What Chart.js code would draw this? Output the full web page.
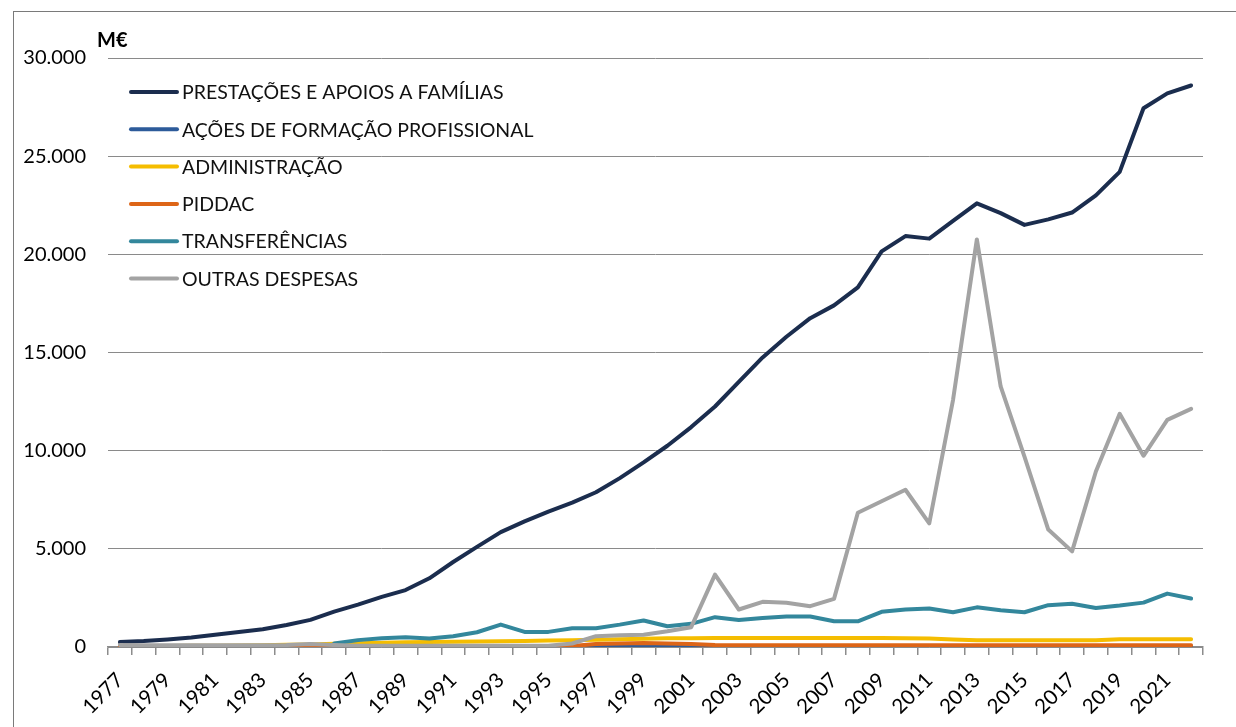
<!DOCTYPE html>
<html>
<head>
<meta charset="utf-8">
<script src="https://cdn.jsdelivr.net/npm/chart.js@4.4.1/dist/chart.umd.min.js"></script>
<style>
  html, body { margin: 0; padding: 0; background: #fff; }
  #wrap { position: relative; width: 1236px; height: 727px; overflow: hidden; }
  #frame { position: absolute; left: 13px; top: 11px; width: 1300px; height: 800px;
           border-top: 1.5px solid #7a7a7a; border-left: 1.5px solid #7a7a7a; pointer-events: none; }
  canvas { position: absolute; left: 0; top: 0; }
</style>
</head>
<body>
<div id="wrap">
  <div id="frame"></div>
  <canvas id="c" width="1236" height="727"></canvas>
</div>
<script>
const years = [1977,1978,1979,1980,1981,1982,1983,1984,1985,1986,1987,1988,1989,1990,1991,1992,1993,1994,1995,1996,1997,1998,1999,2000,2001,2002,2003,2004,2005,2006,2007,2008,2009,2010,2011,2012,2013,2014,2015,2016,2017,2018,2019,2020,2021,2022];

const seriesNames = ["PRESTAÇÕES E APOIOS A FAMÍLIAS","AÇÕES DE FORMAÇÃO PROFISSIONAL","ADMINISTRAÇÃO","PIDDAC","TRANSFERÊNCIAS","OUTRAS DESPESAS"];

const prestacoes = [250,300,380,480,620,760,900,1120,1380,1800,2160,2550,2900,3500,4330,5100,5850,6400,6900,7350,7880,8600,9400,10250,11200,12250,13500,14750,15800,16750,17400,18320,20150,20930,20800,21700,22600,22100,21500,21780,22130,23000,24200,27440,28200,28600];

const acoesFormacao = [10,10,10,10,10,10,10,10,10,10,10,10,10,10,10,10,10,10,10,10,20,20,20,20,20,10,10,10,10,10,10,10,10,10,10,10,10,10,10,10,10,10,10,10,10,10];

const administracao = [30,40,50,60,70,80,90,110,130,160,190,220,240,260,270,280,290,310,330,350,370,400,420,440,450,460,460,460,460,460,460,460,460,450,430,380,350,340,340,340,340,340,400,400,400,400];

const piddac = [20,20,20,20,20,20,20,20,20,20,20,20,50,50,50,50,50,50,50,50,150,180,200,180,150,100,90,90,90,90,90,90,90,90,90,90,90,90,90,90,90,90,90,90,90,90];

const transferencias = [null,null,null,null,null,null,null,null,null,180,350,450,500,430,550,750,1140,770,770,960,960,1140,1350,1060,1180,1520,1380,1480,1550,1550,1310,1310,1790,1910,1960,1770,2020,1870,1770,2130,2200,1990,2110,2260,2720,2470];

const outrasDespesas = [100,90,90,90,90,90,90,100,150,100,70,70,70,70,70,70,70,70,70,180,550,600,620,800,1010,3690,1910,2300,2250,2080,2450,6840,7420,8010,6300,12590,20760,13270,9700,5980,4870,8940,11880,9740,11570,12130];

const yTicks = [0,5000,10000,15000,20000,25000,30000];
const unitLabel = "M€";

const colors = ["#1b2d4e","#2d5b9a","#f5bd00","#dd6517","#33879c","#a3a3a3"];
const seriesData = [prestacoes, acoesFormacao, administracao, piddac, transferencias, outrasDespesas];

const FONT = "Lato, 'Liberation Sans', Arial, sans-serif";

const datasets = seriesNames.map((name, i) => ({
  label: name,
  data: seriesData[i],
  borderColor: colors[i],
  backgroundColor: colors[i],
  borderWidth: 4,
  pointRadius: 0,
  pointHoverRadius: 0,
  tension: 0,
  fill: false,
  spanGaps: false,
  borderCapStyle: 'round',
  borderJoinStyle: 'round',
  order: seriesNames.length - 1 - i
}));

const legendPlugin = {
  id: 'insideLegend',
  afterDraw(chart) {
    const ctx = chart.ctx;
    ctx.save();
    ctx.fillStyle = '#000';
    ctx.font = "bold 20px " + FONT;
    ctx.textAlign = 'left';
    ctx.textBaseline = 'middle';
    ctx.fillText(unitLabel, 97, 41);
    const x0 = 131, x1 = 177, tx = 182, y0 = 92, dy = 37.3;
    ctx.font = "19.5px " + FONT;
    seriesNames.forEach((name, i) => {
      const y = y0 + i * dy;
      ctx.strokeStyle = colors[i];
      ctx.lineWidth = 4;
      ctx.lineCap = 'round';
      ctx.beginPath();
      ctx.moveTo(x0, y);
      ctx.lineTo(x1, y);
      ctx.stroke();
      ctx.fillStyle = '#111';
      ctx.fillText(name, tx, y + 1);
    });
    ctx.restore();
  }
};

new Chart(document.getElementById('c'), {
  type: 'line',
  data: { labels: years.map(String), datasets },
  options: {
    responsive: false,
    animation: false,
    devicePixelRatio: 1,
    layout: { padding: { left: 0, top: 58, right: 33, bottom: 0 } },
    plugins: { legend: { display: false }, tooltip: { enabled: false } },
    scales: {
      x: {
        type: 'category',
        offset: true,
        grid: { display: true, drawOnChartArea: false, drawTicks: true, tickLength: 8, offset: true, color: '#8c8c8c', lineWidth: 1.5 },
        border: { display: true, color: '#8c8c8c', width: 1.5 },
        ticks: {
          autoSkip: false,
          maxRotation: 45,
          minRotation: 45,
          padding: 13,
          color: '#000',
          font: { family: FONT, size: 20.5 },
          callback: function(value, index) { return (years[index] - years[0]) % 2 === 0 ? String(years[index]) : ''; }
        },
        afterFit(scale) { scale.height = 80; }
      },
      y: {
        min: 0,
        max: 30000,
        afterBuildTicks(scale) { scale.ticks = yTicks.map(v => ({ value: v })); },
        grid: { color: '#8a8a8a', lineWidth: 1, drawTicks: false },
        border: { display: false },
        ticks: {
          padding: 22,
          color: '#000',
          font: { family: FONT, size: 20 },
          callback: v => v === 0 ? '0' : String(v).replace(/\B(?=(\d{3})+(?!\d))/g, '.')
        },
        afterFit(scale) { scale.width = 108; }
      }
    }
  },
  plugins: [legendPlugin]
});
</script>
</body>
</html>
